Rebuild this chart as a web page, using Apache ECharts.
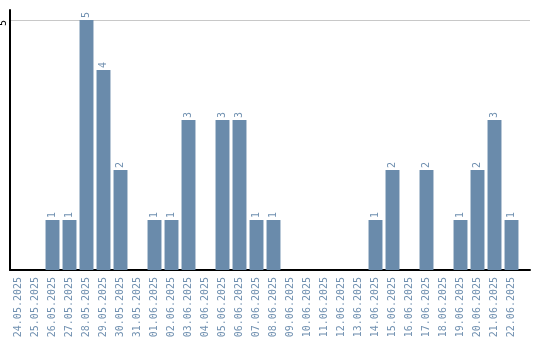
<!DOCTYPE html>
<html>
<head>
<meta charset="utf-8">
<script src="https://cdn.jsdelivr.net/npm/echarts@6/dist/echarts.min.js"></script>
<style>
  html, body { margin: 0; padding: 0; background: #fff; }
  #chart { width: 540px; height: 340px; }
</style>
</head>
<body>
<div id="chart"></div>
<script>
// dates on the x axis
const days = ['24.05.2025', '25.05.2025', '26.05.2025', '27.05.2025', '28.05.2025', '29.05.2025',
  '30.05.2025', '31.05.2025', '01.06.2025', '02.06.2025', '03.06.2025', '04.06.2025',
  '05.06.2025', '06.06.2025', '07.06.2025', '08.06.2025', '09.06.2025', '10.06.2025',
  '11.06.2025', '12.06.2025', '13.06.2025', '14.06.2025', '15.06.2025', '16.06.2025',
  '17.06.2025', '18.06.2025', '19.06.2025', '20.06.2025', '21.06.2025', '22.06.2025'];
// count per day
const counts = [0, 0, 1, 1, 5, 4, 2, 0, 1, 1, 3, 0, 3, 3, 1, 1, 0, 0, 0, 0, 0, 1, 2, 0, 2, 0, 1, 2, 3, 1];
// y tick labels shown
const yTicks = [5];

const barColor = '#6a8bab';
const mono = '"DejaVu Sans Mono", monospace';

let chart = echarts.init(document.getElementById('chart'));
chart.setOption({
  animation: false,
  grid: [
    // bars
    { left: 10, right: 20, top: 10, bottom: 70, containLabel: false, outerBoundsMode: 'none' },
    // frame: bottom axis line and gridline run a bit further right
    { left: 10, right: 10, top: 20, bottom: 70, containLabel: false, outerBoundsMode: 'none' }
  ],
  xAxis: [{
    type: 'category',
    gridIndex: 0,
    data: days,
    axisLine: { show: false },
    axisTick: { show: false },
    axisLabel: {
      rotate: 90, interval: 0, margin: 7,
      color: '#7090b0', fontFamily: mono, fontSize: 10
    }
  }, {
    type: 'value',
    gridIndex: 1,
    min: 0, max: 1,
    axisLine: { show: true, lineStyle: { color: '#000', width: 2 } },
    axisTick: { show: false },
    axisLabel: { show: false },
    splitLine: { show: false }
  }],
  yAxis: [{
    type: 'value',
    gridIndex: 0,
    min: 0, max: 5.2, interval: 5,
    axisLine: { show: true, lineStyle: { color: '#000', width: 2 } },
    axisTick: { show: false },
    splitLine: { show: false },
    axisLabel: {
      rotate: 90, margin: 2, align: 'right', verticalAlign: 'bottom',
      color: '#000', fontFamily: mono, fontSize: 10,
      formatter: v => (yTicks.indexOf(v) >= 0 ? String(v) : '')
    }
  }, {
    type: 'value',
    gridIndex: 1,
    min: 0, max: Math.max(...yTicks), interval: Math.max(...yTicks),
    axisLine: { show: false },
    axisTick: { show: false },
    axisLabel: { show: false },
    splitLine: { show: true, lineStyle: { color: '#c8c8c8', width: 1 } }
  }],
  series: [{
    type: 'bar',
    xAxisIndex: 0,
    yAxisIndex: 0,
    data: counts,
    barCategoryGap: '18%',
    itemStyle: { color: barColor },
    label: {
      show: true, position: 'top', rotate: 90, align: 'left', verticalAlign: 'middle',
      distance: 2, color: '#7090b0', fontFamily: mono, fontSize: 10,
      formatter: p => (p.value ? String(p.value) : '')
    },
    z: 3
  }]
});
</script>
</body>
</html>
